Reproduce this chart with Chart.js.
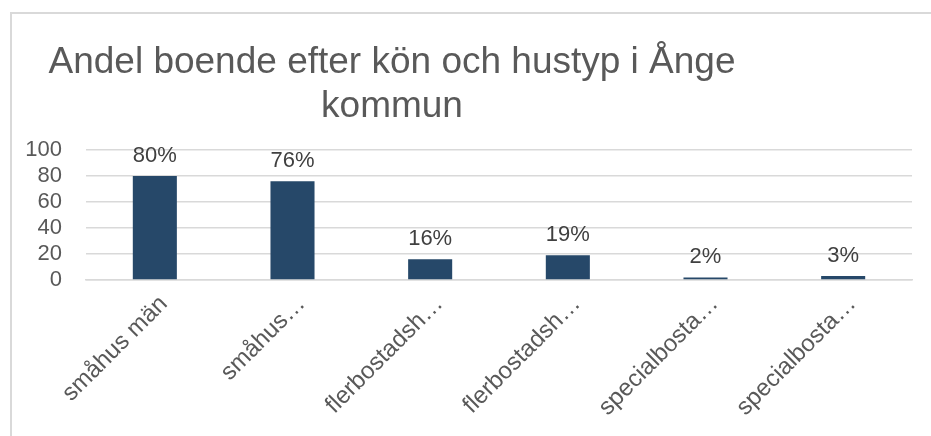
<!DOCTYPE html>
<html>
<head>
<meta charset="utf-8">
<script src="https://cdn.jsdelivr.net/npm/chart.js@4/dist/chart.umd.min.js"></script>
<style>
  html, body { margin: 0; padding: 0; background: #fff; }
  .frame {
    position: absolute; left: 10px; top: 12px;
    width: 919px; height: 424px;
    border-left: 2px solid #d9d9d9; border-top: 2px solid #d9d9d9;
  }
  .frame canvas { display: block; }
</style>
</head>
<body>
<div class="frame"><canvas id="boendeChart" width="919" height="424"></canvas></div>
<script>
/* ─── Data ─── */
const titleLines = ["Andel boende efter kön och hustyp i Ånge", "kommun"];
const categories = ["småhus män", "småhus kvinnor", "flerbostadshus män",
                    "flerbostadshus kvinnor", "specialbostad män", "specialbostad kvinnor"];
const tickLabels = ["småhus män", "småhus…", "flerbostadsh…", "flerbostadsh…", "specialbosta…", "specialbosta…"];
const shares     = [80, 76, 16, 19, 2, 3];
const yTicks     = [0, 20, 40, 60, 80, 100];

const FONT = "'Liberation Sans', Arial, sans-serif";

/* ─── Title, drawn left of centre like the original ─── */
const titlePlugin = {
  id: "offsetTitle",
  afterDraw(chart) {
    const ctx = chart.ctx;
    ctx.save();
    ctx.font = "37px " + FONT;
    ctx.fillStyle = "#595959";
    ctx.textAlign = "center";
    ctx.textBaseline = "alphabetic";
    titleLines.forEach((line, i) => ctx.fillText(line, 380, 59 + i * 44));
    ctx.restore();
  },
};

/* ─── Value labels above the bars ─── */
const valueLabels = {
  id: "valueLabels",
  afterDatasetsDraw(chart) {
    const ctx = chart.ctx;
    const meta = chart.getDatasetMeta(0);
    ctx.save();
    ctx.font = "22px " + FONT;
    ctx.fillStyle = "#404040";
    ctx.textAlign = "center";
    ctx.textBaseline = "alphabetic";
    meta.data.forEach((bar, i) => {
      ctx.fillText(shares[i] + "%", bar.x, bar.y - 14);
    });
    ctx.restore();
  },
};

new Chart(document.getElementById("boendeChart"), {
  type: "bar",
  data: {
    labels: categories,
    datasets: [{
      data: shares,
      backgroundColor: "#264869",
      barPercentage: 0.32,
      categoryPercentage: 1,
    }],
  },
  options: {
    responsive: false,
    animation: false,
    layout: { padding: { top: 136, right: 19, left: 0, bottom: 0 } },
    plugins: {
      legend: { display: false },
      title: { display: false },
      tooltip: { enabled: false },
    },
    scales: {
      x: {
        grid: { display: false },
        border: { color: "#d9d9d9", width: 1.5 },
        ticks: {
          color: "#595959",
          font: { family: FONT, size: 24 },
          minRotation: 45, maxRotation: 45,
          autoSkip: false,
          padding: 2,
          labelOffset: 9,
          callback: (v, i) => tickLabels[i],
        },
        afterFit: s => { s.height = 158; },
      },
      y: {
        min: 0, max: 100,
        grid: { color: "#d9d9d9", lineWidth: 1.5, drawTicks: false },
        border: { display: false },
        afterBuildTicks: s => { s.ticks = yTicks.map(v => ({ value: v })); },
        ticks: {
          color: "#595959",
          font: { family: FONT, size: 22 },
          padding: 24,
          autoSkip: false,
        },
        afterFit: s => { s.width = 74; },
      },
    },
  },
  plugins: [titlePlugin, valueLabels],
});
</script>
</body>
</html>
